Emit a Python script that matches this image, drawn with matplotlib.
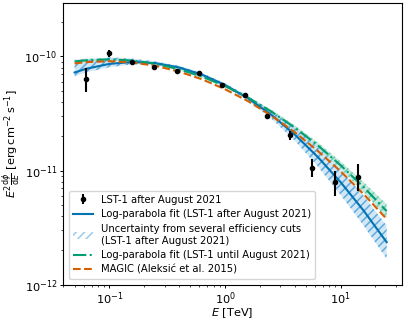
import numpy as np
import matplotlib
matplotlib.use("Agg")
import matplotlib.pyplot as plt
from matplotlib.patches import Patch

# LST-1 flux points (after August 2021), E^2 dphi/dE in erg cm^-2 s^-1
pt_energy = [0.063, 0.1, 0.156, 0.243, 0.383, 0.6, 0.95, 1.49, 2.3, 3.65, 5.7, 8.9, 14.0]
pt_flux = [6.4e-11, 1.07e-10, 8.9e-11, 8.1e-11, 7.5e-11, 7.1e-11, 5.6e-11,
           4.6e-11, 3.0e-11, 2.04e-11, 1.06e-11, 7.9e-12, 8.7e-12]
pt_err_lo = [1.57e-11, 0.8e-11, 0.3e-11, 0.25e-11, 0.2e-11, 0.2e-11, 0.15e-11,
             0.15e-11, 0.15e-11, 0.2e-11, 0.18e-11, 1.9e-12, 2.1e-12]
pt_err_hi = [1.45e-11, 0.8e-11, 0.3e-11, 0.25e-11, 0.2e-11, 0.2e-11, 0.15e-11,
             0.15e-11, 0.15e-11, 0.2e-11, 0.2e-11, 2.0e-12, 2.6e-12]

# curves
curve_energy = [0.05, 0.063, 0.1, 0.158, 0.251, 0.398, 0.631, 1.0,
                1.585, 2.512, 3.981, 6.31, 10.0, 15.85, 25.0]
fit_after = [7.24e-11, 7.80e-11, 8.61e-11, 8.94e-11, 8.73e-11, 8.02e-11, 6.93e-11, 5.62e-11,
             4.29e-11, 3.08e-11, 2.08e-11, 1.32e-11, 7.89e-12, 4.43e-12, 2.35e-12]
fit_until = [9.03e-11, 9.26e-11, 9.43e-11, 9.21e-11, 8.63e-11, 7.74e-11, 6.66e-11, 5.50e-11,
             4.35e-11, 3.29e-11, 2.39e-11, 1.67e-11, 1.11e-11, 7.13e-12, 4.40e-12]
magic = [8.69e-11, 8.92e-11, 9.09e-11, 8.86e-11, 8.27e-11, 7.38e-11, 6.31e-11, 5.16e-11,
         4.05e-11, 3.03e-11, 2.18e-11, 1.49e-11, 9.83e-12, 6.19e-12, 3.75e-12]

# uncertainty bands (upper / lower edges)
band_after_hi = [9.41e-11, 9.23e-11, 9.85e-11, 9.58e-11, 9.04e-11, 8.30e-11, 7.17e-11, 5.82e-11,
                 4.49e-11, 3.33e-11, 2.35e-11, 1.60e-11, 1.02e-11, 6.00e-12, 3.28e-12]
band_after_lo = [6.69e-11, 7.27e-11, 8.04e-11, 8.53e-11, 8.43e-11, 7.75e-11, 6.70e-11, 5.43e-11,
                 4.10e-11, 2.85e-11, 1.84e-11, 1.09e-11, 6.10e-12, 3.27e-12, 1.68e-12]
band_until_hi = [9.35e-11, 9.58e-11, 9.65e-11, 9.42e-11, 8.83e-11, 7.92e-11, 6.81e-11, 5.63e-11,
                 4.45e-11, 3.41e-11, 2.50e-11, 1.77e-11, 1.20e-11, 7.89e-12, 5.06e-12]
band_until_lo = [8.73e-11, 8.96e-11, 9.22e-11, 9.00e-11, 8.43e-11, 7.56e-11, 6.51e-11, 5.37e-11,
                 4.25e-11, 3.17e-11, 2.28e-11, 1.57e-11, 1.03e-11, 6.44e-12, 3.83e-12]

blue = "#0173b2"
green = "#029e73"
orange = "#d55e00"

plt.rcParams["hatch.linewidth"] = 1.1

fig = plt.figure(figsize=(4.07, 3.19), dpi=100)
ax = fig.add_axes([0.154, 0.108, 0.834, 0.883])

# green band (until August 2021)
ax.fill_between(curve_energy, band_until_lo, band_until_hi, facecolor=green, alpha=0.22,
                edgecolor="none", zorder=1)
ax.fill_between(curve_energy, band_until_lo, band_until_hi, facecolor="none", hatch="////",
                edgecolor="#5cc9a7", alpha=0.8, linewidth=0, zorder=1)
# blue band (several efficiency cuts)
ax.fill_between(curve_energy, band_after_lo, band_after_hi, facecolor="#7fbde6", alpha=0.35,
                edgecolor="none", zorder=1)
ax.fill_between(curve_energy, band_after_lo, band_after_hi, facecolor="none", hatch="////",
                edgecolor="#4a9fd8", alpha=0.85, linewidth=0, zorder=1)

ax.plot(curve_energy, fit_after, color=blue, lw=1.5, zorder=3)
ax.plot(curve_energy, fit_until, color=green, lw=1.5, ls="-.", zorder=3)
ax.plot(curve_energy, magic, color=orange, lw=1.5, ls="--", zorder=3)

h_pts = ax.errorbar(pt_energy, pt_flux, yerr=[pt_err_lo, pt_err_hi], fmt="o", color="black",
                    ms=3, elinewidth=1.5, capsize=0, zorder=4)

ax.set_xscale("log")
ax.set_yscale("log")
ax.set_xlim(0.0394, 34)
ax.set_ylim(1e-12, 2.95e-10)
ax.set_xticks([0.1, 1, 10])
ax.set_yticks([1e-12, 1e-11, 1e-10])
ax.tick_params(which="major", labelsize=8.2, length=2.5, width=0.7, pad=1.5)
ax.tick_params(which="minor", length=1.5, width=0.5)
ax.set_xlabel(r"$E$ [TeV]", fontsize=8.2, labelpad=-0.5)
ax.set_ylabel(r"$E^2\frac{\mathrm{d}\phi}{\mathrm{d}E}$ [erg$\,$cm$^{-2}\,$s$^{-1}$]",
              fontsize=8.2, labelpad=1)

h_after, = ax.plot([], [], color=blue, lw=1.5)
h_band = Patch(facecolor="none", edgecolor="#9ccbe8", hatch="////", linewidth=0)
h_until, = ax.plot([], [], color=green, lw=1.5, ls="-.")
h_magic, = ax.plot([], [], color=orange, lw=1.5, ls="--")
ax.legend([h_pts, h_after, h_band, h_until, h_magic],
          ["LST-1 after August 2021",
           "Log-parabola fit (LST-1 after August 2021)",
           "Uncertainty from several efficiency cuts\n(LST-1 after August 2021)",
           "Log-parabola fit (LST-1 until August 2021)",
           "MAGIC (Aleksić et al. 2015)"],
          loc="lower left", fontsize=7.2, handlelength=2.0, borderaxespad=0.6,
          labelspacing=0.45)

fig.savefig("out.png", dpi=100)
